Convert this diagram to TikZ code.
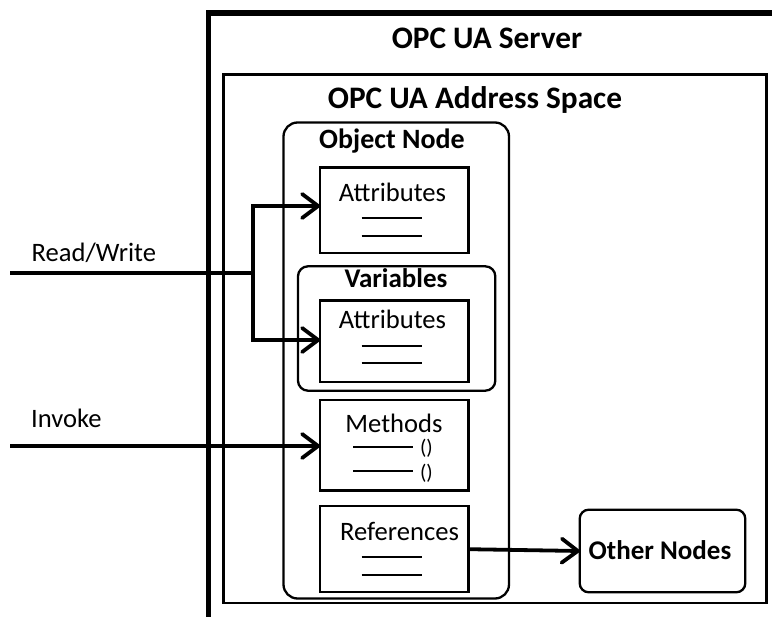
\documentclass[tikz,border=0pt]{standalone}
\usepackage{fontspec}
\setmainfont{Carlito}
\usetikzlibrary{arrows.meta}
\begin{document}
\begin{tikzpicture}[x=1pt,y=-1pt,
  box/.style={draw, line width=2.3pt, inner sep=0pt, outer sep=0pt, anchor=north west},
  rbox/.style={box, rounded corners=#1},
  title/.style={font=\fontsize{31.3}{36}\selectfont\bfseries, inner sep=0pt, anchor=base},
  btitle/.style={font=\fontsize{27}{32}\selectfont\bfseries, inner sep=0pt, anchor=base},
  label/.style={font=\fontsize{26.6}{31}\selectfont, inner sep=0pt, anchor=base},
  paren/.style={font=\fontsize{21}{25}\selectfont, inner sep=0pt},
  rule/.style={line width=1.6pt},
  conn/.style={line width=3.8pt},
  arr/.style={conn, -{Straight Barb[length=16pt,width=24pt,line cap=round,line join=round]}}
]
\useasboundingbox (0,0) rectangle (772,617);
\clip (0,0) rectangle (772,617);

% server
\node[box, line width=5.5pt, minimum width=620, minimum height=650] (server) at (208.7,13) {};
\node[title] (tserver) at (487,49) {OPC UA Server};

% address space
\node[box, line width=2.8pt, minimum width=543.2, minimum height=528.7] (addr) at (223.3,74.3) {};
\node[title] (taddr) at (475,108.5) {OPC UA Address Space};

% object node
\node[rbox=14pt, minimum width=225.5, minimum height=476] (obj) at (283.5,122.5) {};
\node[btitle, font=\fontsize{28}{33}\selectfont\bfseries] (tobj) at (392,149) {Object Node};

% attributes 1
\node[box, minimum width=148.5, minimum height=85.5] (attr1) at (320,167.5) {};
\node[label] (tattr1) at (392.5,201.5) {Attributes};
\draw[rule] (361.7,218.3) -- (422.3,218.3);
\draw[rule] (361.7,236) -- (422.3,236);

% variables
\node[rbox=10pt, minimum width=197.3, minimum height=124.4] (vars) at (298,266.3) {};
\node[btitle] (tvars) at (396,288) {Variables};

% attributes 2
\node[box, minimum width=148.5, minimum height=81.5] (attr2) at (320,300.5) {};
\node[label] (tattr2) at (392.5,329) {Attributes};
\draw[rule] (361.7,346) -- (422.3,346);
\draw[rule] (361.7,363.3) -- (422.3,363.3);

% methods
\node[box, minimum width=148.5, minimum height=90.2] (meth) at (320,400.3) {};
\node[label] (tmeth) at (394,433) {Methods};
\draw[rule] (353,447) -- (413,447);
\draw[rule] (353,471) -- (413,471);
\node[paren] (p1) at (426.5,448.5) {()};
\node[paren] (p2) at (426.5,473.5) {()};

% references
\node[box, minimum width=148.5, minimum height=86] (refs) at (320,506.2) {};
\node[label] (trefs) at (399.5,541) {References};
\draw[rule] (361.7,557) -- (422.3,557);
\draw[rule] (361.7,575) -- (422.3,575);

% other nodes
\node[rbox=9pt, minimum width=165.6, minimum height=82.6] (other) at (579.7,509.7) {};
\node[btitle, anchor=base] (tother) at (660,560) {Other Nodes};

% read/write
\coordinate (rw) at (10,273);
\coordinate (j) at (253,273);
\coordinate (ja) at (253,206);
\coordinate (jb) at (253,340);
\node[label, anchor=base west] (lrw) at (31.5,261.5) {Read/Write};
\draw[conn] (rw) -- (j);
\draw[arr, line join=miter] (j) -- (ja) -- (ja -| attr1.west);
\draw[arr, line join=miter] (j) -- (jb) -- (jb -| attr2.west);

% invoke
\coordinate (inv) at (10,446);
\node[label, anchor=base west] (linv) at (31,428) {Invoke};
\draw[arr] (inv) -- (inv -| meth.west);

% references -> other nodes
\draw[arr] (refs.east) -- (other.west);
\end{tikzpicture}
\end{document}
